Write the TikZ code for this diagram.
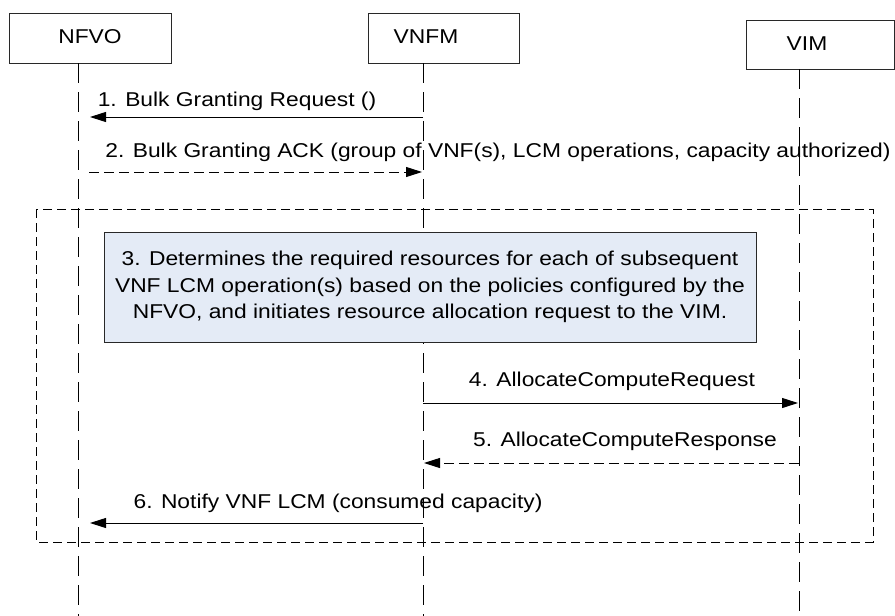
\documentclass[tikz,border=0pt]{standalone}
\usepackage{fontspec}
\setmainfont[FakeStretch=1.14]{Liberation Sans}
\usetikzlibrary{arrows.meta}
\definecolor{notefill}{RGB}{228,235,246}
\definecolor{linegray}{RGB}{40,40,40}
\tikzset{
  actor/.style={draw=linegray, line width=1pt, minimum height=50pt, inner sep=0pt},
  lifeline/.style={draw=black, line width=1pt, dash pattern=on 20pt off 9pt},
  frame/.style={draw=black, line width=1pt, dash pattern=on 9pt off 5pt},
  note/.style={draw=linegray, fill=notefill, line width=1pt, inner sep=0pt, align=center},
  msg/.style={draw=black, line width=1pt, -{Triangle[length=16pt,width=10pt]}},
  reply/.style={msg, dash pattern=on 10pt off 5pt},
  lbl/.style={font=\fontsize{20}{26}\selectfont, inner sep=0pt}
}
\begin{document}
\begin{tikzpicture}[x=1pt,y=-1pt]
\useasboundingbox (0,0) rectangle (895,616);
% actors
\node[actor, minimum width=162pt] (nfvo) at (90,38) {};
\node[lbl] (nfvoT) at (90,37) {NFVO};
\node[actor, minimum width=151pt] (vnfm) at (443.5,38) {};
\node[lbl] (vnfmT) at (426,37) {VNFM};
\node[actor, minimum width=148pt, minimum height=49pt] (vim) at (820,44.5) {};
\node[lbl] (vimT) at (807,44) {VIM};
% lifelines
\coordinate (nfvoTop) at (78,63);
\coordinate (nfvoBot) at (78,616);
\coordinate (vnfmTop) at (423,63);
\coordinate (vnfmBot) at (423,616);
\coordinate (vimTop) at (799,69);
\coordinate (vimBot) at (799,616);
\draw[lifeline] (nfvoTop) -- (nfvoBot);
\draw[lifeline] (vnfmTop) -- (vnfmBot);
\draw[lifeline] (vimTop) -- (vimBot);
% frame
\coordinate (frameA) at (36,209);
\coordinate (frameB) at (873,542);
\draw[frame] (frameA) rectangle (frameB);
% note
\node[note, minimum width=652pt, minimum height=110pt, font=\fontsize{20}{26.5}\selectfont] (n3) at (430,287)
  {3. Determines the required resources for each of subsequent\\VNF LCM operation(s) based on the policies configured by the\\NFVO, and initiates resource allocation request to the VIM.};
% messages
\coordinate (m1s) at (423,117); \coordinate (m1e) at (90,117);
\draw[msg] (m1s) -- (m1e);
\node[lbl] (l1) at (237,101) {1. Bulk Granting Request ()};
\coordinate (m2s) at (89,172); \coordinate (m2e) at (422,172);
\draw[reply] (m2s) -- (m2e);
\node[lbl] (l2) at (498,152) {2. Bulk Granting ACK (group of VNF(s), LCM operations, capacity authorized)};
\coordinate (m4s) at (423,403); \coordinate (m4e) at (798,403);
\draw[msg] (m4s) -- (m4e);
\node[lbl] (l4) at (612,381) {4. AllocateComputeRequest};
\coordinate (m5s) at (799,463); \coordinate (m5e) at (424,463);
\draw[reply] (m5s) -- (m5e);
\node[lbl] (l5) at (625,441) {5. AllocateComputeResponse};
\coordinate (m6s) at (423,523); \coordinate (m6e) at (90,523);
\draw[msg] (m6s) -- (m6e);
\node[lbl] (l6) at (338,503) {6. Notify VNF LCM (consumed capacity)};
\end{tikzpicture}
\end{document}
